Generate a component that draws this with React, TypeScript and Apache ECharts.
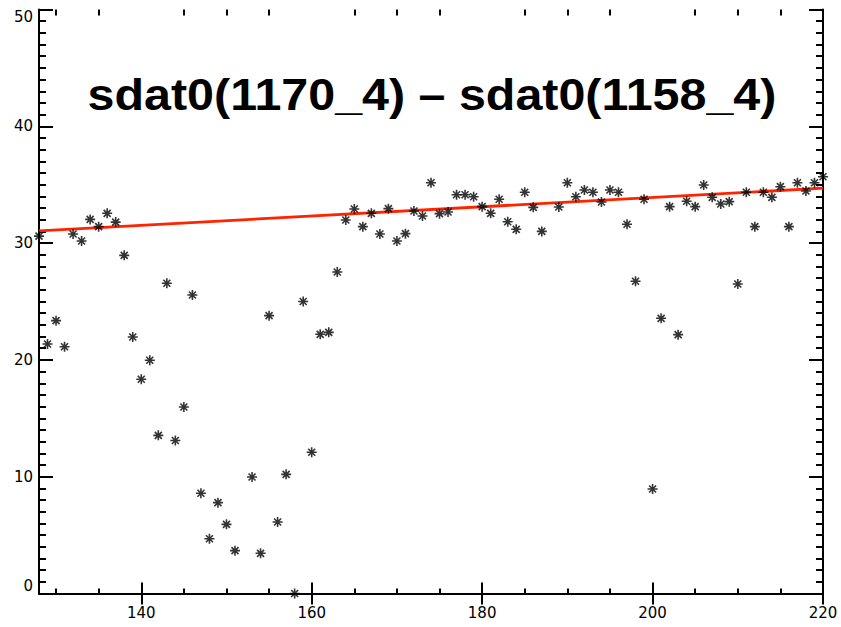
import React, { useEffect, useRef } from "react";
import * as echarts from "echarts";

const titleText = "sdat0(1170_4) \u2013 sdat0(1158_4)";

const xValues = [
  128, 129, 130, 131, 132, 133, 134, 135, 136, 137, 138, 139, 140, 141, 142, 143, 144, 145, 146, 147,
  148, 149, 150, 151, 153, 154, 155, 156, 157, 158, 159, 160, 161, 162, 163, 164, 165, 166, 167, 168,
  169, 170, 171, 172, 173, 174, 175, 176, 177, 178, 179, 180, 181, 182, 183, 184, 185, 186, 187, 189,
  190, 191, 192, 193, 194, 195, 196, 197, 198, 199, 200, 201, 202, 203, 204, 205, 206, 207, 208, 209,
  210, 211, 212, 213, 214, 215, 216, 217, 218, 219, 220,
];
const yValues = [
  30.6, 21.36, 23.36, 21.13, 30.78, 30.18, 32.03, 31.41, 32.55, 31.8, 28.95, 21.96, 18.34, 19.97, 13.54, 26.56, 13.1, 15.97, 25.56, 8.58,
  4.69, 7.78, 5.92, 3.67, 9.97, 3.44, 23.79, 6.12, 10.2, 0.0, 25.0, 12.09, 22.19, 22.36, 27.53, 31.98, 32.92, 31.41, 32.55, 30.78,
  32.95, 30.18, 30.81, 32.75, 32.32, 35.17, 32.52, 32.66, 34.14, 34.14, 33.97, 33.12, 32.55, 33.75, 31.83, 31.18, 34.35, 33.06, 31.0, 33.09,
  35.17, 33.97, 34.55, 34.35, 33.52, 34.55, 34.35, 31.61, 26.73, 33.75, 8.95, 23.56, 33.12, 22.16, 33.58, 33.12, 34.97, 33.92, 33.35, 33.55,
  26.5, 34.35, 31.41, 34.35, 33.92, 34.83, 31.41, 35.17, 34.46, 35.17, 35.68,
];
const fitX = [128, 220];
const fitY = [31.05, 34.7];

const xMajorTicks = [140, 160, 180, 200, 220];
const xMinorTicks = [130, 135, 145, 150, 155, 165, 170, 175, 185, 190, 195, 205, 210, 215];
const yTickInterval = 10;

export default function App() {
  const ref = useRef<HTMLDivElement>(null);
  useEffect(() => {
    if (!ref.current) return;
    const chart = echarts.init(ref.current, null, { renderer: "svg" });
    const gridBox = { left: 39, right: 18, top: 9.5, bottom: 33.5 };
    const axisLine = { show: true, lineStyle: { color: "#000", width: 2 } };
    const labelStyle = { fontFamily: "DejaVu Sans", fontSize: 15, color: "#000" };
    const asterisk = "path://M5 0V10M0 5H10M1.5 1.5L8.5 8.5M1.5 8.5L8.5 1.5";
    chart.setOption({
      animation: false,
      backgroundColor: "#fff",
      grid: [
        { ...gridBox, containLabel: false },
        { ...gridBox, containLabel: false },
      ],
      xAxis: [
        {
          gridIndex: 0, type: "value", position: "bottom", min: 128, max: 220,
          axisLine,
          axisTick: { show: true, inside: true, length: 11, customValues: xMajorTicks, lineStyle: { color: "#000", width: 2 } },
          axisLabel: { show: true, customValues: xMajorTicks, margin: 12, ...labelStyle },
          splitLine: { show: false },
        },
        {
          gridIndex: 0, type: "value", position: "top", min: 128, max: 220,
          axisLine,
          axisTick: { show: true, inside: true, length: 11, customValues: xMajorTicks, lineStyle: { color: "#000", width: 2 } },
          axisLabel: { show: false },
          splitLine: { show: false },
        },
        {
          gridIndex: 1, type: "value", position: "bottom", min: 128, max: 220,
          axisLine: { show: false },
          axisTick: { show: true, inside: true, length: 5, customValues: xMinorTicks, lineStyle: { color: "#000", width: 2 } },
          axisLabel: { show: false },
          splitLine: { show: false },
        },
        {
          gridIndex: 1, type: "value", position: "top", min: 128, max: 220,
          axisLine: { show: false },
          axisTick: { show: true, inside: true, length: 6, customValues: xMinorTicks, lineStyle: { color: "#000", width: 2 } },
          axisLabel: { show: false },
          splitLine: { show: false },
        },
      ],
      yAxis: [
        {
          gridIndex: 0, type: "value", position: "left", min: 0, max: 50, interval: yTickInterval,
          axisLine,
          axisTick: { show: true, inside: true, length: 14, lineStyle: { color: "#000", width: 2 } },
          minorTick: { show: true, splitNumber: 10, length: 7, lineStyle: { color: "#000", width: 2 } },
          axisLabel: { show: true, margin: 6, ...labelStyle, verticalAlignMinLabel: "bottom", verticalAlignMaxLabel: "top" },
          splitLine: { show: false },
          minorSplitLine: { show: false },
        },
        {
          gridIndex: 0, type: "value", position: "right", min: 0, max: 50, interval: yTickInterval,
          axisLine,
          axisTick: { show: true, inside: true, length: 14, lineStyle: { color: "#000", width: 2 } },
          minorTick: { show: true, splitNumber: 10, length: 7, lineStyle: { color: "#000", width: 2 } },
          axisLabel: { show: false },
          splitLine: { show: false },
          minorSplitLine: { show: false },
        },
        { gridIndex: 1, type: "value", show: false, min: 0, max: 50 },
      ],
      graphic: [
        {
          type: "text",
          x: 432,
          y: 95,
          scaleX: 1.1,
          z: 100,
          style: {
            text: titleText,
            fontFamily: "Liberation Sans, Arial, sans-serif",
            fontWeight: "bold",
            fontSize: 44,
            fill: "#000",
            textAlign: "center",
            textVerticalAlign: "middle",
            verticalAlign: "middle",
          },
        },
      ],
      series: [
        {
          type: "line",
          xAxisIndex: 0,
          yAxisIndex: 0,
          data: fitX.map((x, i) => [x, fitY[i]]),
          showSymbol: false,
          lineStyle: { color: "#ff2400", width: 2.8 },
          z: 2,
        },
        {
          type: "scatter",
          xAxisIndex: 0,
          yAxisIndex: 0,
          data: xValues.map((x, i) => [x, yValues[i]]),
          symbol: asterisk,
          symbolSize: 10,
          itemStyle: { color: "transparent", borderColor: "#000", borderWidth: 1.6 },
          z: 3,
        },
      ],
    });
    return () => chart.dispose();
  }, []);
  return <div ref={ref} style={{ position: "fixed", left: 0, top: 0, width: 841, height: 627 }} />;
}
